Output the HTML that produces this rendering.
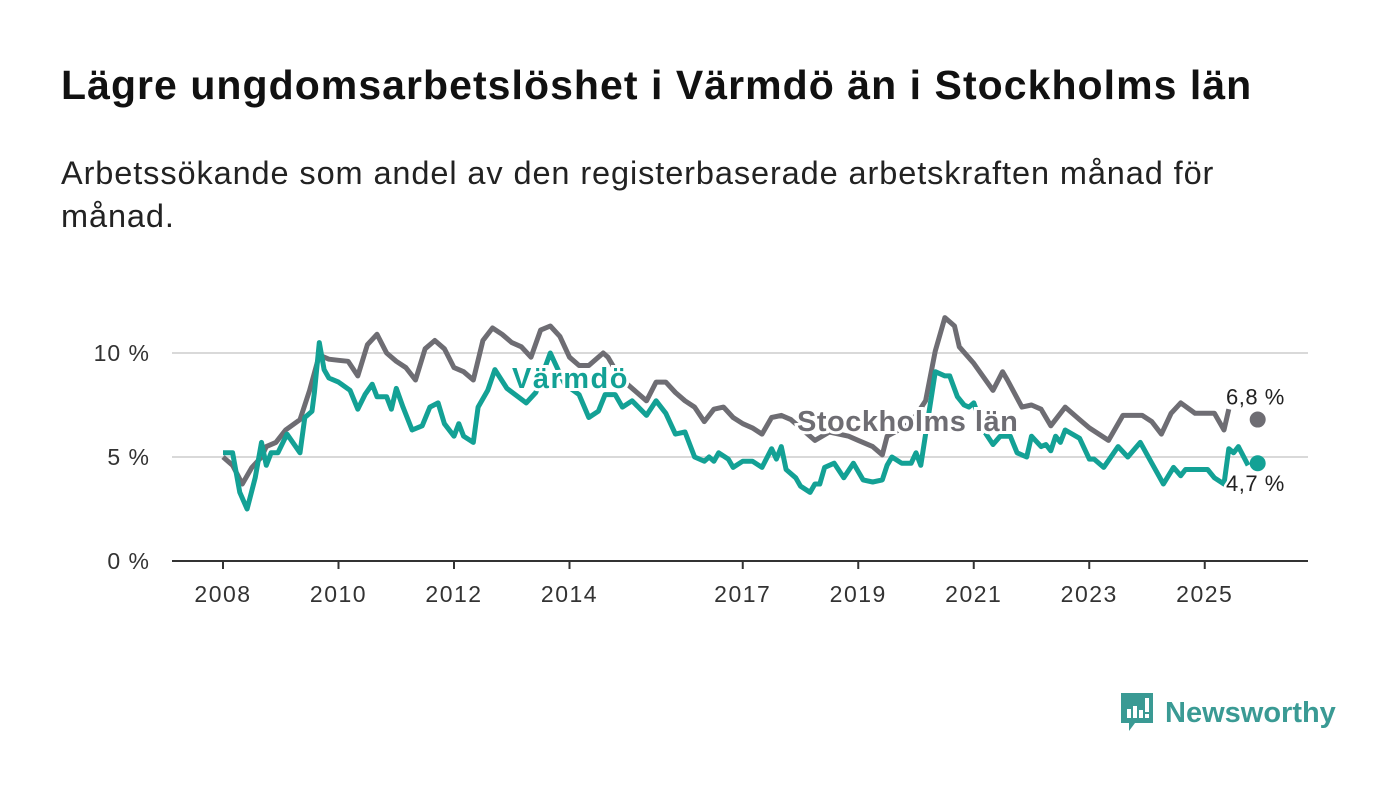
<!DOCTYPE html>
<html><head><meta charset="utf-8">
<style>
body{margin:0;width:1400px;height:794px;background:#fff;font-family:"Liberation Sans","DejaVu Sans",sans-serif;overflow:hidden;position:relative;color:#111}
#title{position:absolute;left:61px;top:62px;font-size:41px;letter-spacing:1.05px;font-weight:bold;margin:0;color:#111;white-space:nowrap}
#subtitle{position:absolute;left:61px;top:152px;font-size:32.5px;letter-spacing:0.9px;line-height:43px;width:1300px;margin:0;color:#222}
svg{position:absolute;left:0;top:0}
#logo{position:absolute;left:1119px;top:691px;display:flex;align-items:center}
#logo span{font-size:29px;color:#3a9a94;font-weight:bold;margin-left:10px}
</style></head><body>
<h1 id="title">Lägre ungdomsarbetslöshet i Värmdö än i Stockholms län</h1>
<p id="subtitle">Arbetssökande som andel av den registerbaserade arbetskraften månad för<br>månad.</p>
<svg id="chart" width="1400" height="794"></svg>
<div id="logo">
<svg width="36" height="44" viewBox="0 0 36 44" style="position:static"><path d="M2 2h32v30H16l-6 8v-8H2z" fill="#3a9a94"/><rect x="8" y="18" width="4" height="9" fill="#fff"/><rect x="14" y="15" width="4" height="12" fill="#fff"/><rect x="20" y="19" width="4" height="8" fill="#fff"/><rect x="26" y="7" width="4" height="14" fill="#fff"/><rect x="26" y="23" width="4" height="4" fill="#fff"/></svg>
<span>Newsworthy</span></div>
<script>
const yTicks=[0,5,10];
const yTickLabels=["0 %","5 %","10 %"];
const xTicks=[2008,2010,2012,2014,2017,2019,2021,2023,2025];
const stockMonths=[0,2,4,6,8,9,11,13,16,18,20,22,24,26,28,30,32,34,36,38,40,42,44,46,48,50,52,54,56,58,60,62,64,66,68,70,72,74,76,79,80,82,84,86,88,90,92,94,96,98,100,102,104,106,108,110,112,114,116,118,120,123,126,130,132,135,137,138,142,144,146,148,150,152,153,156,160,162,163,166,168,170,172,175,178,180,184,187,191,193,195,197,199,202,206,208,209];
const stockValues=[5.0,4.6,3.7,4.5,5.0,5.5,5.7,6.3,6.8,8.2,9.9,9.7,9.65,9.6,8.9,10.4,10.9,10.0,9.6,9.3,8.7,10.2,10.6,10.2,9.3,9.1,8.7,10.6,11.2,10.9,10.5,10.3,9.8,11.1,11.3,10.8,9.8,9.4,9.4,10.0,9.8,9.0,8.5,8.1,7.7,8.6,8.6,8.1,7.7,7.4,6.7,7.3,7.4,6.9,6.6,6.4,6.1,6.9,7.0,6.8,6.4,5.8,6.2,6.0,5.8,5.5,5.1,6.0,6.5,7.0,7.7,10.1,11.7,11.3,10.3,9.5,8.2,9.1,8.7,7.4,7.5,7.3,6.5,7.4,6.8,6.4,5.8,7.0,7.0,6.7,6.1,7.1,7.6,7.1,7.1,6.3,7.3];
const varmMonths=[0,2,3.5,5,6.7,8,9,10,11.4,13.3,16,17,18.5,19,20,21,22,24,26.4,28,29.5,31,32,34,35,36,37.4,39.3,41.4,43,44.7,46,48,49,50,52,53,55,56.5,59,63,65,68,71,74,76,78,79.4,81.5,83,85,88,90,92,94,96,98,100,101,102,103,105,106,108,110,112,114,115,116,117,119,120,122,123,124,125,127,129,131,133,135,137,138,139,141,143,144,145,146,148,150,151,152.6,154,155,156,158,160,161.5,163.6,165,167,168,170,171,172,173,174,175,178,180,181,183,186,188,190.6,193,195.4,197.5,199,200,204.6,206,208,209,210,211,213];
const varmValues=[5.2,5.2,3.3,2.5,4.0,5.7,4.6,5.2,5.2,6.1,5.2,6.9,7.2,8.1,10.5,9.2,8.8,8.6,8.2,7.3,8.0,8.5,7.9,7.9,7.3,8.3,7.4,6.3,6.5,7.4,7.6,6.6,6.0,6.6,6.0,5.7,7.4,8.2,9.2,8.3,7.6,8.1,10.0,8.5,8.0,6.9,7.2,8.0,8.0,7.4,7.7,7.0,7.7,7.1,6.1,6.2,5.0,4.8,5.0,4.8,5.2,4.9,4.5,4.8,4.8,4.5,5.4,4.9,5.5,4.4,4.0,3.6,3.3,3.7,3.7,4.5,4.7,4.0,4.7,3.9,3.8,3.9,4.6,5.0,4.7,4.7,5.2,4.6,6.1,9.1,8.9,8.9,7.9,7.5,7.4,7.6,6.3,5.6,6.0,6.0,5.2,5.0,6.0,5.5,5.6,5.3,6.0,5.7,6.3,5.9,4.9,4.9,4.5,5.5,5.0,5.7,4.7,3.7,4.5,4.1,4.4,4.4,4.0,3.7,5.4,5.2,5.5,4.6];
const latestMonth=215;
const latestStock=6.8;
const latestVarm=4.7;
const latestLabels=["6,8 %","4,7 %"];

const NS="http://www.w3.org/2000/svg";
const svg=document.getElementById('chart');
const x0=223,pxYear=57.75,yBase=561,pxPct=20.8;
function xYear(y){return x0+(y-2008)*pxYear;}
function xMonth(m){return x0+m*pxYear/12;}
function yV(v){return yBase-v*pxPct;}
function mk(t,a){const e=document.createElementNS(NS,t);for(const k in a)e.setAttribute(k,a[k]);svg.appendChild(e);return e;}
yTicks.forEach((t,i)=>{
 if(t>0){const g=mk('line',{x1:172,x2:1308,y1:yV(t),y2:yV(t),stroke:'#d9d9d9','stroke-width':2});
 
 }
 const l=mk('text',{x:150,y:yV(t)+8,'text-anchor':'end','font-size':23,'letter-spacing':1,fill:'#333','font-family':'Liberation Sans, sans-serif'});
 l.textContent=yTickLabels[i];
 
 
});
const ax=mk('line',{x1:172,x2:1308,y1:yBase,y2:yBase,stroke:'#333','stroke-width':2});


xTicks.forEach(t=>{
 const tk=mk('line',{x1:xYear(t),x2:xYear(t),y1:yBase,y2:yBase+8,stroke:'#333','stroke-width':2});
 
 
 const l=mk('text',{x:xYear(t),y:602,'text-anchor':'middle','font-size':23,'letter-spacing':1.5,fill:'#333','font-family':'Liberation Sans, sans-serif'});
 l.textContent=t;
 
 
});
function path(ms,vs){return ms.map((m,i)=>(i?'L':'M')+xMonth(m).toFixed(1)+' '+yV(vs[i]).toFixed(1)).join(' ');}
const ps=mk('path',{d:path(stockMonths,stockValues),fill:'none',stroke:'#6e6d73','stroke-width':5,'stroke-linejoin':'round'});


const pv=mk('path',{d:path(varmMonths,varmValues),fill:'none',stroke:'#13a195','stroke-width':5,'stroke-linejoin':'round'});


function lab(txt,x,y,col,name,ls){
 const t=mk('text',{x:x,y:y,'font-size':29,'letter-spacing':ls,'font-weight':'bold',fill:col,stroke:'#fff','stroke-width':6,'paint-order':'stroke','font-family':'Liberation Sans, sans-serif'});
 t.textContent=txt;
 
 
}
lab('Värmdö',512,388,'#13a195','varmdo-label',1.5);
lab('Stockholms län',797,431,'#6e6d73','stockholm-label',0.5);
const ds=mk('circle',{cx:xMonth(latestMonth),cy:yV(latestStock),r:8,fill:'#6e6d73'});


const dv=mk('circle',{cx:xMonth(latestMonth),cy:yV(latestVarm),r:8,fill:'#13a195'});


[[latestLabels[0],yV(latestStock)-15,'stockholm-value-label'],[latestLabels[1],yV(latestVarm)+28,'varmdo-value-label']].forEach(a=>{
 const t=mk('text',{x:1226,y:a[1],'font-size':22,'letter-spacing':0.5,fill:'#222',stroke:'#fff','stroke-width':5,'paint-order':'stroke','font-family':'Liberation Sans, sans-serif'});
 t.textContent=a[0];
 
 
});
</script>
</body></html>
